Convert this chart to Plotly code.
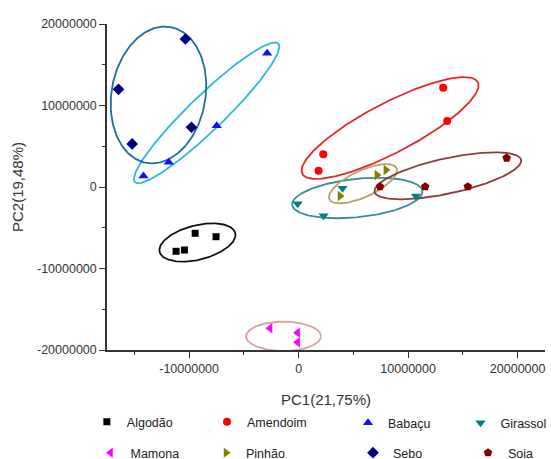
import numpy as np
import plotly.graph_objects as go

# ---------------- data (PCA scores) ----------------
groups = ["Algodão", "Amendoim", "Babaçu", "Girassol", "Mamona", "Pinhão", "Sebo", "Soia"]

algodao_x = [-11.19e6, -10.43e6, -9.45e6, -7.54e6]
algodao_y = [-7.89e6, -7.73e6, -5.68e6, -6.10e6]

amendoim_x = [13.20e6, 13.57e6, 2.25e6, 1.82e6]
amendoim_y = [12.18e6, 8.10e6, 4.01e6, 2.00e6]

babacu_x = [-14.17e6, -11.86e6, -7.48e6, -2.88e6]
babacu_y = [1.35e6, 3.03e6, 7.52e6, 16.40e6]

girassol_x = [4.01e6, -0.09e6, 2.28e6, 10.71e6]
girassol_y = [-0.16e6, -2.05e6, -3.52e6, -1.10e6]

mamona_x = [-2.61e6, -0.09e6, -0.09e6]
mamona_y = [-17.34e6, -17.88e6, -19.06e6]

pinhao_x = [7.97e6, 7.15e6, 3.78e6]
pinhao_y = [2.09e6, 1.47e6, -1.10e6]

sebo_x = [-16.45e6, -15.20e6, -10.34e6, -9.79e6]
sebo_y = [11.99e6, 5.28e6, 18.16e6, 7.33e6]

soia_x = [19.00e6, 15.45e6, 11.56e6, 7.43e6]
soia_y = [3.56e6, 0.04e6, 0.04e6, 0.04e6]

# confidence ellipses: centre (x, y), semi-axes (in x-axis units), angle on screen (deg)
ell_cx = [-9.24e6, 8.35e6, -8.40e6, 5.36e6, -1.38e6, 5.88e6, -12.80e6, 13.63e6]
ell_cy = [-6.81e6, 7.24e6, 9.10e6, -1.35e6, -18.32e6, 0.40e6, 11.29e6, 1.37e6]
ell_a = [3.56e6, 9.04e6, 9.10e6, 5.98e6, 3.42e6, 3.38e6, 6.30e6, 6.85e6]
ell_b = [1.57e6, 2.28e6, 1.60e6, 1.75e6, 1.34e6, 1.21e6, 4.29e6, 1.61e6]
ell_ang = [14.0, 27.6, 44.0, 6.0, 0.0, 24.8, 80.0, 12.3]

# axis ticks
x_tickvals = [-10e6, 0, 10e6, 20e6]
x_ticktext = ["-10000000", "0", "10000000", "20000000"]
y_tickvals = [-20e6, -10e6, 0, 10e6, 20e6]
y_ticktext = ["-20000000", "-10000000", "0", "10000000", "20000000"]
x_range = [-17.5e6, 22.5e6]
y_range = [-20e6, 20e6]

# ---------------- styling ----------------
W, H = 551, 459
ML, MR, MT, MB = 107, 6, 24, 109
FONT = "Liberation Sans, Arial, sans-serif"

xs = [algodao_x, amendoim_x, babacu_x, girassol_x, mamona_x, pinhao_x, sebo_x, soia_x]
ys = [algodao_y, amendoim_y, babacu_y, girassol_y, mamona_y, pinhao_y, sebo_y, soia_y]
symbols = ["square", "circle", "triangle-up", "triangle-down", "triangle-left",
           "triangle-right", "diamond", "pentagon"]
sizes = [7, 8, 9, 9, 9, 9, 9, 9]
mcolors = ["#000000", "#ff0000", "#1010ff", "#008080", "#ff00ff", "#808000", "#000080", "#800000"]
ecolors = ["#111111", "#e8262a", "#2fb4e4", "#3a8d98", "#d9a0a0", "#b3a36b", "#1f6e9c", "#8e3b3b"]

# legend positions (pixel): marker centre x, text start x, row y
leg_mx = [111.7, 230, 369, 482, 110, 230, 373, 489]
leg_tx = [122, 244, 387, 499, 131, 242, 393, 507]
leg_y = [422, 422, 423, 423, 453, 453, 453, 453]

pw = W - ML - MR
ph = H - MT - MB
sx = pw / (x_range[1] - x_range[0])
sy = ph / (y_range[1] - y_range[0])
r = sy / sx

fig = go.Figure()

t = np.linspace(0, 2 * np.pi, 241)
for i in range(len(groups)):
    th = np.radians(ell_ang[i])
    X = ell_a[i] * np.cos(t) * np.cos(th) - ell_b[i] * np.sin(t) * np.sin(th)
    Y = ell_a[i] * np.cos(t) * np.sin(th) + ell_b[i] * np.sin(t) * np.cos(th)
    fig.add_trace(go.Scatter(
        x=ell_cx[i] + X, y=ell_cy[i] + Y / r, mode="lines",
        line=dict(color=ecolors[i], width=1.8), hoverinfo="skip",
        showlegend=False, cliponaxis=False))

legends = {}
for i, g in enumerate(groups):
    lname = "legend" if i == 0 else f"legend{i+1}"
    fig.add_trace(go.Scatter(
        x=xs[i], y=ys[i], mode="markers", name=g,
        marker=dict(symbol=symbols[i], size=sizes[i], color=mcolors[i]),
        cliponaxis=False, legend=lname))
    mid = (leg_mx[i] + leg_tx[i]) / 2
    legends[lname] = dict(
        x=(mid - 30 - ML) / pw, y=(H - MB - leg_y[i]) / ph,
        xanchor="left", yanchor="middle",
        bgcolor="rgba(0,0,0,0)", borderwidth=0,
        font=dict(family=FONT, size=12.5, color="#222"),
        itemsizing="trace")

axis_common = dict(
    showgrid=False, zeroline=False, showline=True, linecolor="#333",
    linewidth=1.5, ticks="outside", ticklen=6, tickwidth=1.3, tickcolor="#333",
    tickfont=dict(family=FONT, size=12.5, color="#333"),
    minor=dict(ticks="outside", ticklen=3.5, tickwidth=1.2, tickcolor="#333", dtick=5e6),
)

fig.update_layout(
    width=W, height=H,
    margin=dict(l=ML, r=MR, t=MT, b=MB, autoexpand=False),
    plot_bgcolor="white", paper_bgcolor="white",
    font=dict(family=FONT, color="#333"),
    xaxis=dict(range=x_range, tickvals=x_tickvals, ticktext=x_ticktext,
               title=dict(text="PC1(21,75%)", font=dict(family=FONT, size=15, color="#333"),
                          standoff=20),
               automargin=False, **axis_common),
    yaxis=dict(range=y_range, tickvals=y_tickvals, ticktext=y_ticktext,
               title=dict(text="PC2(19,48%)", font=dict(family=FONT, size=15, color="#333"),
                          standoff=10),
               automargin=False, **axis_common),
    **legends,
)

fig.write_html("out.html", config={"displayModeBar": False},
               post_script="document.body.style.margin='0';")
